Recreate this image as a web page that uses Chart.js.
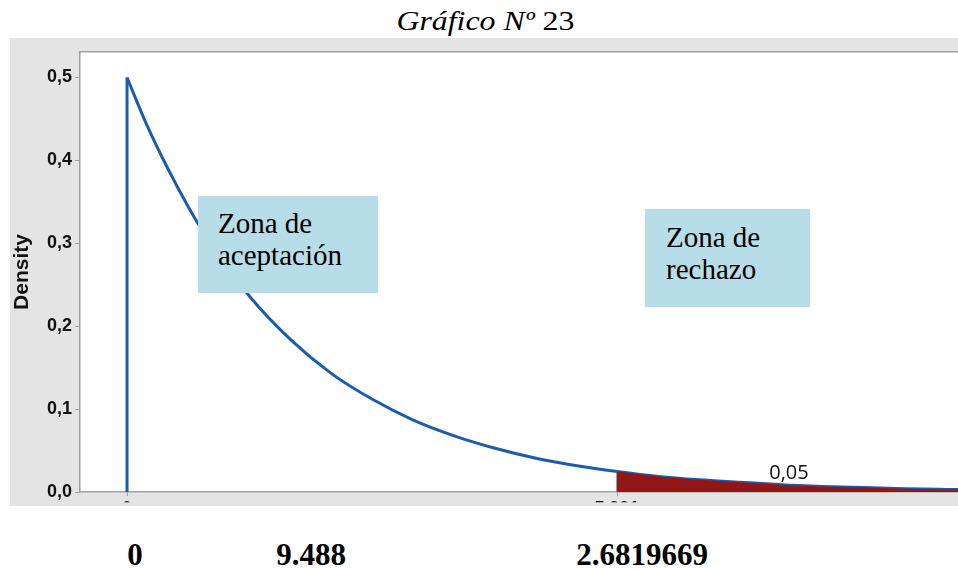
<!DOCTYPE html>
<html>
<head>
<meta charset="utf-8">
<script src="https://cdn.jsdelivr.net/npm/chart.js@4/dist/chart.umd.min.js"></script>
<style>
  body { margin: 0; width: 958px; height: 569px; position: relative; background: #fff; overflow: hidden; }
  #panel { position: absolute; left: 10px; top: 38px; width: 948px; height: 468px; background: #e4e4e4; }
  .serif { font-family: "Liberation Serif", "Times New Roman", serif; color: #000; position: absolute; white-space: nowrap; }
  #title { left: 0; width: 970px; top: 8px; text-align: center; font-size: 27px; line-height: 27px; }
  #title span { display: inline-block; transform: scaleX(1.18); }
  .zone { position: absolute; background: #b7dde8; font-family: "Liberation Serif", serif; font-size: 29px; line-height: 32px; color: #000; box-sizing: border-box; }
  #z1 { left: 198px; top: 196px; width: 180px; height: 97px; padding: 11px 0 0 20px; }
  #z2 { left: 645px; top: 209px; width: 165px; height: 98px; padding: 12px 0 0 21px; }
  #alpha { position: absolute; left: 750px; width: 78px; text-align: center; top: 460px; font-family: "Open Sans", "Noto Sans", sans-serif; font-size: 20px; line-height: 24px; color: #111; }
  .bot { top: 539px; font-size: 31px; line-height: 31px; font-weight: bold; width: 200px; text-align: center; }
</style>
</head>
<body>
<div id="title" class="serif"><span><i>Gráfico Nº</i> 23</span></div>
<div id="panel"><canvas id="densityChart" width="948" height="468"></canvas></div>
<div id="z1" class="zone">Zona de<br>aceptación</div>
<div id="z2" class="zone">Zona de<br>rechazo</div>
<div id="alpha">0,05</div>
<div class="serif bot" style="left:35px">0</div>
<div class="serif bot" style="left:211px">9.488</div>
<div class="serif bot" style="left:542px">2.6819669</div>
<script>
// values
const xValues = [0, 0.25, 0.5, 0.75, 1, 1.5, 2, 2.5, 3, 3.5, 4, 4.5, 5, 5.5, 5.991, 6.5, 7, 7.5, 8, 8.5, 9, 9.5, 10, 10.2];
const density = [0.500, 0.441, 0.390, 0.344, 0.303, 0.236, 0.184, 0.143, 0.112, 0.087, 0.068, 0.053, 0.041, 0.032, 0.025, 0.019, 0.015, 0.012, 0.009, 0.007, 0.0056, 0.0043, 0.0034, 0.0031];
const critical = 5.991;
const xTicks = [0, 5.991];
const yTicks = [0, 0.1, 0.2, 0.3, 0.4, 0.5];

const blue = "#1b5cab";
const red = "#921616";

const curvePts = xValues.map((x, i) => ({ x: x, y: density[i] }));
const tailPts = curvePts.filter(p => p.x >= critical);

// white plot area + top border
const plotBg = {
  id: "plotBg",
  beforeDraw(chart) {
    const { ctx, chartArea: a } = chart;
    ctx.save();
    ctx.fillStyle = "#fff";
    ctx.fillRect(a.left, a.top, a.right - a.left, a.bottom - a.top);
    ctx.strokeStyle = "#a0a0a0";
    ctx.lineWidth = 1.5;
    ctx.beginPath();
    ctx.moveTo(a.left, a.top);
    ctx.lineTo(a.right, a.top);
    ctx.stroke();
    ctx.restore();
  }
};

new Chart(document.getElementById("densityChart"), {
  type: "line",
  data: {
    datasets: [
      {
        data: tailPts,
        borderWidth: 0,
        backgroundColor: red,
        fill: "origin",
        pointRadius: 0,
        cubicInterpolationMode: "monotone"
      },
      {
        data: [{ x: critical, y: 0 }, { x: critical, y: tailPts[0].y }],
        borderColor: "#777",
        borderWidth: 1.5,
        pointRadius: 0,
        fill: false
      },
      {
        data: curvePts,
        borderColor: blue,
        borderWidth: 3,
        pointRadius: 0,
        fill: false,
        cubicInterpolationMode: "monotone"
      },
      {
        data: [{ x: 0, y: 0 }, { x: 0, y: density[0] }],
        borderColor: blue,
        borderWidth: 3,
        pointRadius: 0,
        fill: false
      }
    ]
  },
  options: {
    responsive: false,
    animation: false,
    layout: { padding: { top: 12, left: 0, right: 0, bottom: 0 } },
    plugins: { legend: { display: false }, tooltip: { enabled: false } },
    scales: {
      x: {
        type: "linear",
        min: -0.575,
        max: 10.16,
        afterBuildTicks: s => { s.ticks = xTicks.map(v => ({ value: v })); },
        afterFit: s => { s.height = 10; },
        border: { color: "#a0a0a0", width: 1.5 },
        grid: { drawOnChartArea: false, tickLength: 4, color: "#a0a0a0" },
        ticks: {
          padding: 2,
          autoSkip: false,
          maxRotation: 0,
          color: "#111",
          font: { family: "Liberation Sans, Arial, sans-serif", size: 18, weight: "bold" },
          callback: v => (v === 0 ? "0" : String(v))
        }
      },
      y: {
        min: 0,
        max: 0.531,
        afterBuildTicks: s => { s.ticks = yTicks.map(v => ({ value: v })); },
        afterFit: s => { s.width = 70; },
        border: { color: "#a0a0a0", width: 1.5 },
        grid: { drawOnChartArea: false, tickLength: 5, color: "#a0a0a0" },
        ticks: {
          padding: 3,
          color: "#111",
          font: { family: "Liberation Sans, Arial, sans-serif", size: 18, weight: "bold" },
          callback: v => v.toFixed(1).replace(".", ",")
        },
        title: {
          display: true,
          text: "Density",
          color: "#111",
          padding: { top: 0, bottom: 0 },
          font: { family: "Liberation Sans, Arial, sans-serif", size: 21, weight: "bold" }
        }
      }
    }
  },
  plugins: [plotBg]
});
</script>
</body>
</html>
